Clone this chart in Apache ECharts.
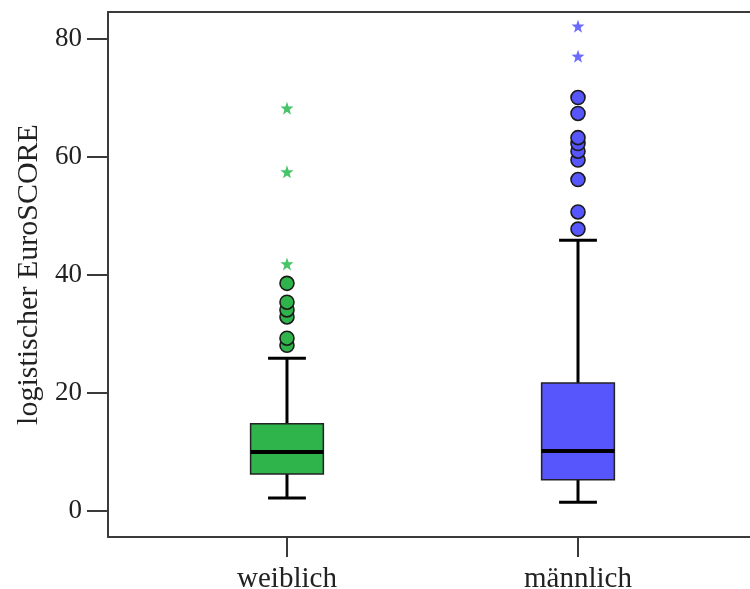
<!DOCTYPE html>
<html>
<head>
<meta charset="utf-8">
<script src="https://cdn.jsdelivr.net/npm/echarts@6/dist/echarts.min.js"></script>
<style>
  html, body { margin: 0; padding: 0; background: #fff; }
  #chart { width: 750px; height: 589px; }
</style>
</head>
<body>
<div id="chart"></div>
<script>
// Groups on the x axis (placed at positions 1, 2, ...)
const categories = ['weiblich', 'männlich'];

// Box statistics per group
const lowerWhisker = [2.2, 1.5];
const q1 = [6.3, 5.3];
const median = [10.0, 10.2];
const q3 = [14.8, 21.7];
const upperWhisker = [25.9, 45.9];

// Outliers (circles) and extreme values (stars) per group
const outliersWeiblich = [28.1, 29.3, 32.9, 34.1, 35.4, 38.6];
const extremesWeiblich = [41.9, 57.5, 68.3];
const outliersMaennlich = [47.8, 50.7, 56.2, 59.5, 61.0, 62.3, 63.3, 67.4, 70.1];
const extremesMaennlich = [77.1, 82.2];

// Y axis tick labels
const yTicks = [0, 20, 40, 60, 80];

const boxColors = ['#2fb34b', '#5656fc'];
const starColors = ['#45c468', '#6b6bff'];
const FONT = "'Liberation Serif', 'Times New Roman', serif";
const AXIS_COLOR = '#3a3a3a';
const STAR = 'path://M0,-10 L2.35,-3.24 L9.51,-3.09 L3.8,1.24 L5.88,8.09 L0,4 L-5.88,8.09 L-3.8,1.24 L-9.51,-3.09 L-2.35,-3.24 Z';

const boxData = categories.map((c, i) => [i + 1, lowerWhisker[i], q1[i], median[i], q3[i], upperWhisker[i]]);

function renderBox(params, api) {
  const x = api.value(0);
  const i = params.dataIndex;
  const pLow = api.coord([x, api.value(1)]);
  const pQ1 = api.coord([x, api.value(2)]);
  const pMed = api.coord([x, api.value(3)]);
  const pQ3 = api.coord([x, api.value(4)]);
  const pHigh = api.coord([x, api.value(5)]);
  const boxW = api.size([0.25, 0])[0];
  const capW = boxW * 0.52;
  const cx = pQ1[0];
  const whisker = { stroke: '#000', lineWidth: 3 };
  return {
    type: 'group',
    children: [
      { type: 'line', shape: { x1: cx, y1: pLow[1], x2: cx, y2: pQ1[1] }, style: whisker },
      { type: 'line', shape: { x1: cx, y1: pQ3[1], x2: cx, y2: pHigh[1] }, style: whisker },
      { type: 'line', shape: { x1: cx - capW / 2, y1: pLow[1], x2: cx + capW / 2, y2: pLow[1] }, style: whisker },
      { type: 'line', shape: { x1: cx - capW / 2, y1: pHigh[1], x2: cx + capW / 2, y2: pHigh[1] }, style: whisker },
      { type: 'rect', shape: { x: cx - boxW / 2, y: pQ3[1], width: boxW, height: pQ1[1] - pQ3[1] },
        style: { fill: boxColors[i], stroke: '#222', lineWidth: 1.5 } },
      { type: 'line', shape: { x1: cx - boxW / 2, y1: pMed[1], x2: cx + boxW / 2, y2: pMed[1] },
        style: { stroke: '#000', lineWidth: 4 } }
    ]
  };
}

function pts(pos, arr) { return arr.map(v => [pos, v]); }

const chart = echarts.init(document.getElementById('chart'), null, { renderer: 'canvas' });
chart.setOption({
  animation: false,
  backgroundColor: '#fff',
  grid: { left: 108, top: 12, right: 0, bottom: 52, containLabel: false, outerBoundsMode: 'none' },
  xAxis: [
    {
      type: 'value', min: 0.385, max: 2.591, position: 'bottom',
      axisLine: { show: true, onZero: false, lineStyle: { color: AXIS_COLOR, width: 2 } },
      axisTick: { show: true, inside: false, length: 20, customValues: [1, 2], lineStyle: { color: AXIS_COLOR, width: 2 } },
      axisLabel: { customValues: [1, 2], formatter: v => categories[Math.round(v) - 1] || '',
        color: '#222', fontFamily: FONT, fontSize: 29, margin: 28 },
      splitLine: { show: false }
    },
    {
      type: 'value', min: 0.385, max: 2.591, position: 'top',
      axisLine: { show: true, onZero: false, lineStyle: { color: AXIS_COLOR, width: 2 } },
      axisTick: { show: false }, axisLabel: { show: false }, splitLine: { show: false }
    }
  ],
  yAxis: {
    type: 'value', min: -4.4, max: 84.6,
    name: 'logistischer EuroSCORE', nameLocation: 'middle', nameRotate: 90, nameGap: 61,
    nameTextStyle: { color: '#222', fontFamily: FONT, fontSize: 30 },
    axisLine: { show: true, onZero: false, lineStyle: { color: AXIS_COLOR, width: 2 } },
    axisTick: { show: true, inside: false, length: 21, customValues: yTicks, lineStyle: { color: AXIS_COLOR, width: 2 } },
    axisLabel: { customValues: yTicks, color: '#222', fontFamily: FONT, fontSize: 27, margin: 26 },
    splitLine: { show: false }
  },
  series: [
    {
      type: 'custom', renderItem: renderBox, data: boxData,
      encode: { x: 0, y: [1, 2, 3, 4, 5] }, z: 2
    },
    {
      type: 'scatter', data: pts(1, outliersWeiblich), symbol: 'circle', symbolSize: 14, z: 3,
      itemStyle: { color: boxColors[0], borderColor: '#1a1a1a', borderWidth: 1.6, opacity: 1 }
    },
    {
      type: 'scatter', data: pts(2, outliersMaennlich), symbol: 'circle', symbolSize: 14, z: 3,
      itemStyle: { color: boxColors[1], borderColor: '#1a1a1a', borderWidth: 1.6, opacity: 1 }
    },
    {
      type: 'scatter', data: pts(1, extremesWeiblich), symbol: STAR, symbolSize: 13, z: 3,
      itemStyle: { color: starColors[0], opacity: 1 }
    },
    {
      type: 'scatter', data: pts(2, extremesMaennlich), symbol: STAR, symbolSize: 13, z: 3,
      itemStyle: { color: starColors[1], opacity: 1 }
    }
  ]
});
</script>
</body>
</html>
